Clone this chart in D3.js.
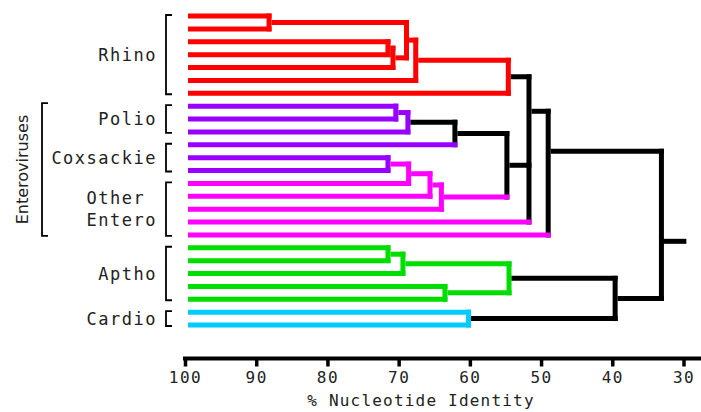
<!DOCTYPE html>
<html><head><meta charset="utf-8">
<script src="https://cdn.jsdelivr.net/npm/d3@7"></script>
<style>body{margin:0;background:#fff} svg{display:block}</style>
</head><body><svg id="c" width="701" height="412"></svg>
<script>
// ---------------- data ----------------
const leafGroups = ["Rhino","Rhino","Rhino","Rhino","Rhino","Rhino","Rhino",
  "Polio","Polio","Polio","Coxsackie","Coxsackie","Coxsackie",
  "Other Entero","Other Entero","Other Entero","Other Entero","Other Entero",
  "Aptho","Aptho","Aptho","Aptho","Aptho","Cardio","Cardio"];
const groupNames = ["Rhino","Polio","Coxsackie","Other Entero","Aptho","Cardio"];
const superGroupName = "Enteroviruses";
const superGroupMembers = ["Polio","Coxsackie","Other Entero"];
// merges (ids 25+): children ids, % identity at the join, cluster (null = black)
const mergeKids = [[0,1],[2,3],[26,4],[25,27],[28,5],[29,6],
  [7,8],[31,9],[32,10],[11,12],[34,13],[35,14],[36,15],[33,37],[30,38,16],[39,17],
  [18,19],[41,20],[21,22],[42,43],[23,24],[44,45],[40,46]];
const mergeIdentity = [88.2,71.5,70.8,68.9,67.6,54.6,
  70.4,68.7,62.1,71.5,68.6,65.6,64.0,54.8,51.7,49.0,
  71.5,69.4,63.5,54.5,60.2,39.6,33.1];
const mergeCluster = ["Rhino","Rhino","Rhino","Rhino","Rhino","Rhino",
  "Polio","Polio",null,"Coxsackie","Other Entero","Other Entero","Other Entero",null,null,null,
  "Aptho","Aptho","Aptho","Aptho","Cardio",null,null];
const coloredStems = [37];                       // merges whose stem keeps their own colour
const rowOverride = {39: 7.4, 40: 10.5, 47: 17.5}; // join row (leaf-row units)
const rootStubIdentity = 29.6;
const xTicks = [100,90,80,70,60,50,40,30];
const axisTitle = "% Nucleotide Identity";

// ---------------- style ----------------
const colors = {"Rhino":"#ff0000","Polio":"#9900ff","Coxsackie":"#9900ff",
  "Other Entero":"#ff00ff","Aptho":"#00dd00","Cardio":"#00ccff"};
const BLACK = "#000";
const W = 701, H = 412, SW = 5;
const MONO = "'DejaVu Sans Mono', monospace";

const svg = d3.select("#c");
const x = d3.scaleLinear().domain([100,30]).range([185,683.5]);
const y = d3.scaleLinear().domain([0, leafGroups.length-1]).range([16,325]);

// ---------------- tree ----------------
const nodes = leafGroups.map((g,i)=>({id:i, leaf:true, row:i, h:100, cluster:g}));
mergeKids.forEach((kids,j)=>{
  const id = leafGroups.length + j;
  const ch = kids.map(k=>nodes[k]);
  const rows = ch.map(c=>c.row);
  const row = rowOverride[id] !== undefined ? rowOverride[id] : (d3.min(rows)+d3.max(rows))/2;
  const n = {id, leaf:false, kids:ch, row, h:mergeIdentity[j], cluster:mergeCluster[j]};
  ch.forEach(c=>c.parent=n);
  nodes.push(n);
});
const col = c => c ? colors[c] : BLACK;
const merges = nodes.filter(n=>!n.leaf);

const gTree = svg.append("g").attr("fill","none").attr("stroke-width",SW);
// verticals
gTree.selectAll("line.v").data(merges).join("line").attr("class","v")
  .attr("x1",d=>x(d.h)).attr("x2",d=>x(d.h))
  .attr("y1",d=>y(d3.min(d.kids,k=>k.row))).attr("y2",d=>y(d3.max(d.kids,k=>k.row)))
  .attr("stroke",d=>col(d.cluster)).attr("stroke-linecap","square");
// horizontals
const links = nodes.filter(n=>n.parent);
function stemColor(n){
  if (n.leaf) return col(n.cluster);
  if (n.parent.cluster) return col(n.parent.cluster);
  if (coloredStems.includes(n.id)) return col(n.cluster);
  return BLACK;
}
gTree.selectAll("line.h").data(links).join("line").attr("class","h")
  .attr("x1",d=>d.leaf ? x(100)+3 : x(d.h)+SW/2)
  .attr("x2",d=>x(d.parent.h)+SW/2)
  .attr("y1",d=>y(d.row)).attr("y2",d=>y(d.row))
  .attr("stroke",d=>stemColor(d));
// root stub
const root = nodes[nodes.length-1];
gTree.append("line").attr("x1",x(root.h)).attr("x2",x(rootStubIdentity))
  .attr("y1",y(root.row)).attr("y2",y(root.row)).attr("stroke",BLACK);

// ---------------- group labels & brackets ----------------
const gLab = svg.append("g");
function span(g){ const idx = leafGroups.map((v,i)=>v===g?i:-1).filter(i=>i>=0); return [d3.min(idx), d3.max(idx)]; }
function bracket(bx, y1, y2, serif){
  gLab.append("path").attr("d",`M${bx+serif},${y1}H${bx}V${y2}H${bx+serif}`)
    .attr("fill","none").attr("stroke","#000").attr("stroke-width",1.8);
}
const BX = 166, LABEL_R = 157;
groupNames.forEach(g=>{
  const [a,b] = span(g);
  const y1 = y(a)-1, y2 = y(b)+1;
  bracket(BX, y1, y2, 6);
  const cy = (y1+y2)/2;
  const words = g.split(" ");
  const lh = 21.6;
  const t = gLab.append("text").attr("font-family",MONO).attr("font-size",17)
    .attr("letter-spacing",1.5).attr("fill","#222");
  words.forEach((w,i)=>{
    t.append("tspan").attr("y", cy + (i-(words.length-1)/2)*lh).attr("dy","0.36em").text(w);
  });
  // align: lines share left edge, longest line ends at LABEL_R
  const widths = t.selectAll("tspan").nodes().map(n=>n.getComputedTextLength());
  const left = LABEL_R - d3.max(widths);
  t.selectAll("tspan").attr("x", left);
});
// super group
{
  const a = span(superGroupMembers[0])[0], b = span(superGroupMembers[superGroupMembers.length-1])[1];
  const y1 = y(a)-3, y2 = y(b)+1;
  bracket(42, y1, y2, 6);
  gLab.append("text").attr("transform",`translate(22,${(y1+y2)/2}) rotate(-90)`)
    .attr("text-anchor","middle").attr("dy","0.36em")
    .attr("font-family","'DejaVu Sans', sans-serif").attr("font-size",16).attr("fill","#222")
    .text(superGroupName);
}

// ---------------- axis ----------------
const AY = 358.5;
const gAx = svg.append("g").attr("transform",`translate(0,${AY})`);
gAx.call(d3.axisBottom(x).tickValues(xTicks).tickSize(8).tickSizeOuter(0).tickFormat(d3.format("d")));
gAx.select(".domain").remove();
gAx.append("line").attr("x1",x(100)-2).attr("x2",W).attr("stroke","#000").attr("stroke-width",4);
gAx.selectAll(".tick line").attr("stroke","#000").attr("stroke-width",3.5);
gAx.selectAll(".tick text").attr("y",19).attr("dy","0.36em")
  .attr("font-family",MONO).attr("font-size",16).attr("letter-spacing",1.5).attr("fill","#222");
svg.append("text").attr("x",421).attr("y",400.5).attr("dy","0.36em").attr("text-anchor","middle")
  .attr("font-family",MONO).attr("font-size",16).attr("letter-spacing",1.2).attr("fill","#222")
  .text(axisTitle);
</script></body></html>
